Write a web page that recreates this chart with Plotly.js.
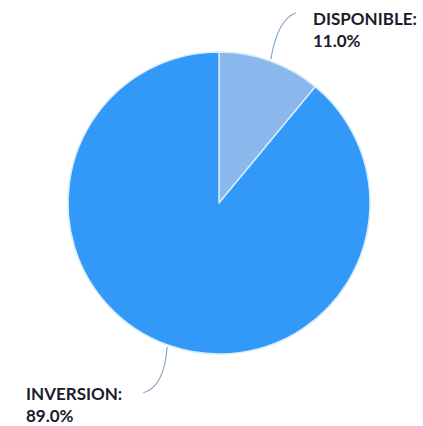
<!DOCTYPE html>
<html><head><meta charset="utf-8">
<script src="https://cdn.plot.ly/plotly-3.0.1.min.js"></script>
<style>html,body{margin:0;padding:0;background:#fff;}#chart{width:423px;height:426px;}</style>
</head><body><div id="chart"></div>
<script>
var labels = ["DISPONIBLE", "INVERSION"];
var values = [11.0, 89.0];
var colors = ["#8ab8ec", "#3399f8"];

var W = 423, H = 426;
var cx = 219, cy = 203, R = 151;
function px(x){return x/W;}
function py(y){return 1 - y/H;}

var total = values.reduce(function(a,b){return a+b;},0);
var pct = values.map(function(v){return (100*v/total).toFixed(1)+"%";});

// mid-angles of slices (clockwise from 12 o'clock)
var mids = [], acc = 0;
values.forEach(function(v){ var a = v/total*360; mids.push(acc + a/2); acc += a; });
function edge(angDeg, r){ var t = angDeg*Math.PI/180; return [cx + r*Math.sin(t), cy - r*Math.cos(t)]; }

var p0 = edge(mids[0], R+2), p1 = edge(mids[1], R+2);
var shapes = [
  {type:"path", xref:"paper", yref:"paper",
   path: "M "+px(p0[0])+","+py(p0[1])+" Q "+px(p0[0]+7)+","+py(p0[1]-40)+" "+px(p0[0]+25)+","+py(p0[1]-46),
   line:{color:"#8aa6c8", width:1.2}},
  {type:"path", xref:"paper", yref:"paper",
   path: "M "+px(p1[0])+","+py(p1[1])+" Q "+px(p1[0]-3)+","+py(p1[1]+40)+" "+px(p1[0]-24)+","+py(p1[1]+46),
   line:{color:"#8aa6c8", width:1.2}}
];

var font = {family:"Lato, sans-serif", size:17, color:"#1b1b2b"};
var annotations = [
  {xref:"paper", yref:"paper", x:px(p0[0]+40), y:py(6), xanchor:"left", yanchor:"top", align:"left", showarrow:false,
   text:"<b>"+labels[0]+":<br>"+pct[0]+"</b>", font:font},
  {xref:"paper", yref:"paper", x:px(24), y:py(381), xanchor:"left", yanchor:"top", align:"left", showarrow:false,
   text:"<b>"+labels[1]+":<br>"+pct[1]+"</b>", font:font}
];

var data = [{
  type:"pie", labels:labels, values:values, sort:false, direction:"clockwise", rotation:0,
  marker:{colors:colors, line:{color:"#d6ebfd", width:1.5}},
  textinfo:"none", hoverinfo:"label+percent",
  domain:{x:[(cx-R)/W,(cx+R)/W], y:[1-(cy+R)/H, 1-(cy-R)/H]}
}];

var layout = {
  width:W, height:H, margin:{l:0,r:0,t:0,b:0}, showlegend:false,
  paper_bgcolor:"#ffffff", shapes:shapes, annotations:annotations
};
Plotly.newPlot("chart", data, layout, {displayModeBar:false, staticPlot:true});
</script></body></html>
